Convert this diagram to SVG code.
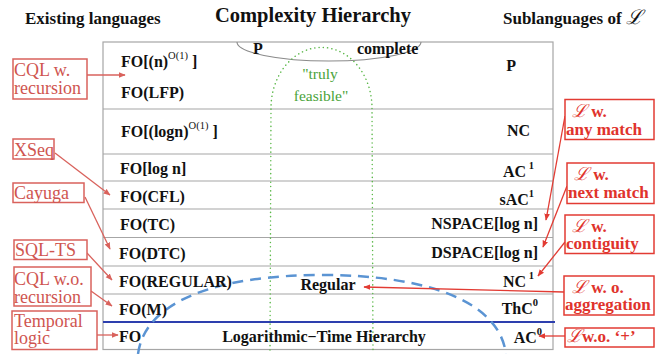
<svg xmlns="http://www.w3.org/2000/svg" width="662" height="354" viewBox="0 0 662 354">
<defs>
<style>
.hdr{font-family:"Liberation Serif","Times New Roman",serif;font-weight:bold;fill:#111;}
.lbl{font-family:"Liberation Serif","Times New Roman",serif;font-weight:bold;font-size:16px;fill:#111;}
.sup{font-size:10.5px;font-weight:normal;}
.supb{font-size:10.5px;}
.row{stroke:#a6a6a6;stroke-width:1.2;fill:none;}
.lbox{fill:#fff;stroke:#d9625c;stroke-width:1.5;}
.rbox{fill:#fff;stroke:#e23b33;stroke-width:1.5;}
.ltxt{font-family:"Liberation Serif","Times New Roman",serif;font-size:18px;fill:#cf5550;}
.rtxt{font-family:"Liberation Serif","Times New Roman",serif;font-weight:bold;font-size:17px;fill:#e0332c;}
.scr{font-family:"DejaVu Serif","Liberation Serif",serif;font-style:italic;font-weight:normal;}
.lcon{stroke:#d9625c;stroke-width:1.3;fill:none;marker-end:url(#la);}
.rcon{stroke:#e23b33;stroke-width:1.3;fill:none;marker-end:url(#ra);}
.green{fill:#4aa33a;font-family:"Liberation Serif","Times New Roman",serif;font-size:15.5px;}
</style>
<marker id="la" viewBox="0 0 10 10" refX="9" refY="5" markerWidth="7" markerHeight="7" markerUnits="userSpaceOnUse" orient="auto"><path d="M0,1 L10,5 L0,9 z" fill="#d9625c"/></marker>
<marker id="ra" viewBox="0 0 10 10" refX="9" refY="5" markerWidth="7" markerHeight="7" markerUnits="userSpaceOnUse" orient="auto"><path d="M0,1 L10,5 L0,9 z" fill="#e23b33"/></marker>
</defs>
<rect width="662" height="354" fill="#fff"/>

<g id="headers">
<text class="hdr" x="25" y="24" font-size="17">Existing languages</text>
<text class="hdr" x="313" y="22" font-size="20.5" text-anchor="middle">Complexity Hierarchy</text>
<text class="hdr" x="503" y="24" font-size="17">Sublanguages of <tspan class="scr" font-size="20">ℒ</tspan></text>
</g>

<g id="hierarchy-box">
<rect x="103" y="42" width="450" height="307.5" class="row"/>
<line class="row" x1="103" y1="109" x2="553" y2="109"/>
<line class="row" x1="103" y1="154" x2="553" y2="154"/>
<line class="row" x1="103" y1="181" x2="553" y2="181"/>
<line class="row" x1="103" y1="209" x2="553" y2="209"/>
<line class="row" x1="103" y1="237.5" x2="553" y2="237.5"/>
<line class="row" x1="103" y1="266" x2="553" y2="266"/>
<line class="row" x1="103" y1="294" x2="553" y2="294"/>
<line x1="103" y1="322" x2="555" y2="322" stroke="#2d3fae" stroke-width="2"/>
</g>

<g id="p-complete">
<path d="M237 42 A92 19 0 0 0 421 42" fill="none" stroke="#8a8a8a" stroke-width="1.1"/>
<text class="lbl" x="253" y="54" font-size="11">P</text>
<text class="lbl" x="357" y="54" font-size="10.5">complete</text>
</g>

<g id="truly-feasible">
<path d="M270 350 L271 108 A50 60 0 0 1 372 108 L373 350" fill="none" stroke="#5cb84a" stroke-width="1.5" stroke-dasharray="0.1 4.2" stroke-linecap="round"/>
<text class="green" x="320" y="79" text-anchor="middle">"truly</text>
<text class="green" x="321" y="101" text-anchor="middle">feasible"</text>
</g>

<g id="regular-arc">
<path d="M138 354 C145 300 220 275 322 275 C424 275 499 300 506 354" fill="none" stroke="#5b94d3" stroke-width="2.5" stroke-dasharray="11 7"/>
<text class="lbl" x="328" y="290" text-anchor="middle">Regular</text>
</g>

<g id="left-labels">
<text class="lbl" x="121" y="67">FO[(n)<tspan class="sup" dy="-8">O(1)</tspan><tspan dy="8"> ]</tspan></text>
<text class="lbl" x="121" y="98">FO(LFP)</text>
<text class="lbl" x="121" y="137">FO[(logn)<tspan class="sup" dy="-8">O(1)</tspan><tspan dy="8"> ]</tspan></text>
<text class="lbl" x="120" y="174">FO[log n]</text>
<text class="lbl" x="120" y="202">FO(CFL)</text>
<text class="lbl" x="120" y="230">FO(TC)</text>
<text class="lbl" x="119" y="259">FO(DTC)</text>
<text class="lbl" x="119" y="287">FO(REGULAR)</text>
<text class="lbl" x="119" y="315">FO(M)</text>
<text class="lbl" x="119" y="342">FO</text>
<text class="lbl" x="324" y="342" text-anchor="middle">Logarithmic−Time Hierarchy</text>
</g>

<g id="right-labels">
<text class="lbl" x="516" y="71" text-anchor="end">P</text>
<text class="lbl" x="530" y="136" text-anchor="end">NC</text>
<text class="lbl" x="534" y="177" text-anchor="end">AC<tspan class="supb" dy="-8"> 1</tspan></text>
<text class="lbl" x="534" y="205" text-anchor="end">sAC<tspan class="supb" dy="-8">1</tspan></text>
<text class="lbl" x="538" y="229" text-anchor="end">NSPACE[log n]</text>
<text class="lbl" x="538" y="258" text-anchor="end">DSPACE[log n]</text>
<text class="lbl" x="534" y="287" text-anchor="end">NC<tspan class="supb" dy="-8"> 1</tspan></text>
<text class="lbl" x="538" y="314" text-anchor="end">ThC<tspan class="supb" dy="-8">0</tspan></text>
<text class="lbl" x="542" y="343" text-anchor="end">AC<tspan class="supb" dy="-8">0</tspan></text>
</g>

<g id="connectors">
<path class="lcon" d="M87 75 L125 75"/>
<path class="lcon" d="M55 153 L110 195"/>
<path class="lcon" d="M85 197 L110 249"/>
<path class="lcon" d="M87 253 L112 280"/>
<path class="lcon" d="M91 291 L112 306"/>
<path class="lcon" d="M97 335 L118 335"/>
<path class="rcon" d="M565 116 L546 220"/>
<path class="rcon" d="M567 186 L543 247"/>
<path class="rcon" d="M565 242 L538 276"/>
<path class="rcon" d="M564 292 L364 287"/>
<path class="rcon" d="M565 336 L539 336"/>
</g>

<g id="cql-recursion">
<rect class="lbox" x="13" y="59" width="74" height="40"/>
<text class="ltxt" x="14" y="76">CQL w.</text>
<text class="ltxt" x="14" y="94">recursion</text>
</g>
<g id="xseq">
<rect class="lbox" x="13" y="139" width="41" height="20"/>
<text class="ltxt" x="14" y="156">XSeq</text>
</g>
<g id="cayuga">
<rect class="lbox" x="13" y="183" width="71" height="19.5"/>
<text class="ltxt" x="14" y="199">Cayuga</text>
</g>
<g id="sql-ts">
<rect class="lbox" x="14" y="240" width="73" height="19.5"/>
<text class="ltxt" x="15" y="256">SQL-TS</text>
</g>
<g id="cql-wo-recursion">
<rect class="lbox" x="14" y="267" width="77" height="39"/>
<text class="ltxt" x="14" y="285">CQL w.o.</text>
<text class="ltxt" x="14" y="302.5">recursion</text>
</g>
<g id="temporal-logic">
<rect class="lbox" x="12" y="311" width="85" height="38.5"/>
<text class="ltxt" x="14" y="327">Temporal</text>
<text class="ltxt" x="14" y="344">logic</text>
</g>

<g id="any-match">
<rect class="rbox" x="565" y="99.5" width="89" height="40"/>
<text class="rtxt" x="572" y="117"><tspan class="scr" font-size="18">ℒ</tspan>  w.</text>
<text class="rtxt" x="566" y="135">any match</text>
</g>
<g id="next-match">
<rect class="rbox" x="567" y="163" width="87" height="40.5"/>
<text class="rtxt" x="574" y="180"><tspan class="scr" font-size="18">ℒ</tspan>  w.</text>
<text class="rtxt" x="568" y="197.5">next match</text>
</g>
<g id="contiguity">
<rect class="rbox" x="565" y="215" width="89" height="38.5"/>
<text class="rtxt" x="572" y="232"><tspan class="scr" font-size="18">ℒ</tspan>  w.</text>
<text class="rtxt" x="566" y="248.5">contiguity</text>
</g>
<g id="aggregation">
<rect class="rbox" x="564" y="276" width="90" height="39"/>
<text class="rtxt" x="572" y="293"><tspan class="scr" font-size="18">ℒ</tspan>  w. o.</text>
<text class="rtxt" x="565" y="310">aggregation</text>
</g>
<g id="no-plus">
<rect class="rbox" x="565" y="328" width="89" height="19"/>
<text class="rtxt" x="567" y="342"><tspan class="scr" font-size="18">ℒ</tspan>w.o.  ‘+’</text>
</g>
</svg>
